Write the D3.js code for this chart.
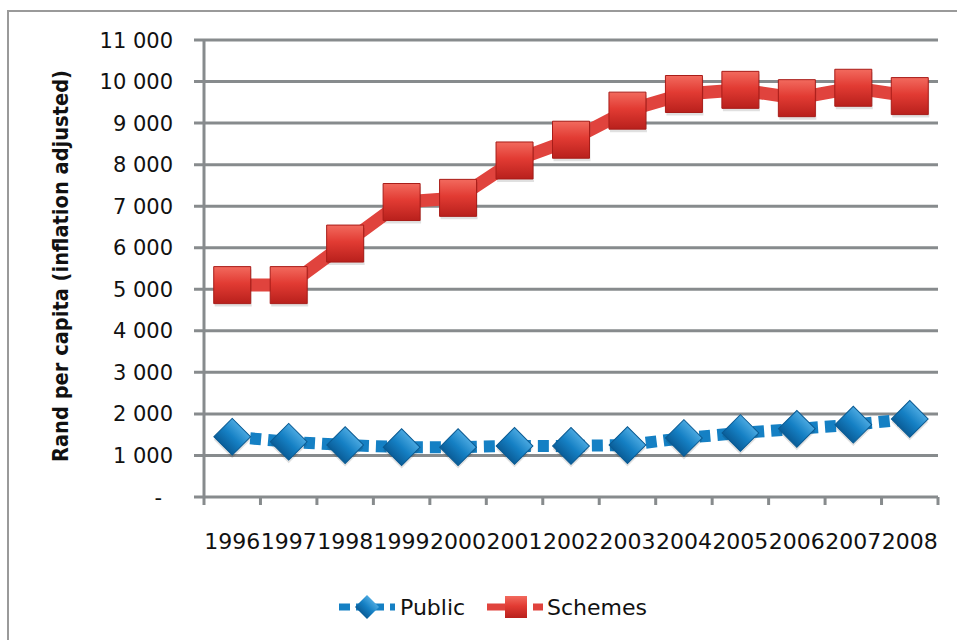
<!DOCTYPE html>
<html><head><meta charset="utf-8">
<script src="https://cdn.jsdelivr.net/npm/d3@7"></script>
<style>body{margin:0;background:#fff}svg{display:block}text{font-family:"DejaVu Sans",sans-serif}</style>
</head><body>
<script>
const years = ["1996","1997","1998","1999","2000","2001","2002","2003","2004","2005","2006","2007","2008"];
const publicValues = [1450,1330,1250,1200,1200,1230,1230,1250,1420,1540,1640,1740,1880];
const schemesValues = [5100,5100,6100,7100,7200,8100,8600,9300,9700,9800,9600,9850,9650];
const yTicks = [0,1000,2000,3000,4000,5000,6000,7000,8000,9000,10000,11000];
const yTickLabels = ["-","1 000","2 000","3 000","4 000","5 000","6 000","7 000","8 000","9 000","10 000","11 000"];
const seriesNames = ["Public","Schemes"];

const W=957,H=640;
const svg=d3.select("body").append("svg").attr("width",W).attr("height",H);
const defs=svg.append("defs");
const gR=defs.append("linearGradient").attr("id","gRed").attr("x1",0).attr("y1",0).attr("x2",0).attr("y2",1);
gR.append("stop").attr("offset","0%").attr("stop-color","#f26a5e");
gR.append("stop").attr("offset","45%").attr("stop-color","#e23b33");
gR.append("stop").attr("offset","100%").attr("stop-color","#b8201c");
const gB=defs.append("linearGradient").attr("id","gBlue").attr("x1",0).attr("y1",0).attr("x2",0).attr("y2",1);
gB.append("stop").attr("offset","0%").attr("stop-color","#4aa8e0");
gB.append("stop").attr("offset","50%").attr("stop-color","#1580c4");
gB.append("stop").attr("offset","100%").attr("stop-color","#0a5d98");

// frame
svg.append("rect").attr("x",8).attr("y",11).attr("width",1000).attr("height",700)
  .attr("fill","none").attr("stroke","#9a9a9a").attr("stroke-width",2);

const x=d3.scaleBand().domain(years).range([204,938]);
const y=d3.scaleLinear().domain([0,11000]).range([497,40]);
const grey="#878b8d";

svg.append("g").selectAll("line").data(yTicks).join("line")
  .attr("x1",194).attr("x2",938).attr("y1",d=>y(d)).attr("y2",d=>y(d))
  .attr("stroke",grey).attr("stroke-width",3);
svg.append("line").attr("x1",204).attr("x2",204).attr("y1",y(11000)).attr("y2",505)
  .attr("stroke",grey).attr("stroke-width",3);
const bounds=years.map(d=>x(d)).concat([x.range()[1]]);
svg.append("g").selectAll("line").data(bounds.slice(1)).join("line")
  .attr("x1",d=>d).attr("x2",d=>d).attr("y1",497).attr("y2",505)
  .attr("stroke",grey).attr("stroke-width",3);

svg.append("g").selectAll("text").data(yTicks).join("text")
  .attr("x",(d,i)=>i===0?162:173).attr("y",d=>y(d)+7.5).attr("text-anchor","end")
  .attr("font-size",21).attr("fill","#111").text((d,i)=>yTickLabels[i]);
svg.append("g").selectAll("text").data(years).join("text")
  .attr("x",d=>x(d)+x.bandwidth()/2).attr("y",549).attr("text-anchor","middle")
  .attr("font-size",22).attr("fill","#111").text(d=>d);
svg.append("text").attr("transform","translate(68,266) rotate(-90)").attr("text-anchor","middle")
  .attr("font-size",22).attr("font-weight","bold").attr("fill","#111")
  .attr("textLength",392).attr("lengthAdjust","spacingAndGlyphs")
  .text("Rand per capita (inflation adjusted)");

const cx=d=>x(d)+x.bandwidth()/2;
const line=d3.line().x(d=>cx(d[0])).y(d=>y(d[1]));
const pubData=years.map((d,i)=>[d,publicValues[i]]);
const schData=years.map((d,i)=>[d,schemesValues[i]]);

svg.append("path").attr("d",line(schData)).attr("fill","none").attr("stroke","#e0433d")
  .attr("stroke-width",13);
svg.append("path").attr("d",line(pubData)).attr("fill","none").attr("stroke","#1580c4")
  .attr("stroke-width",12).attr("stroke-dasharray","11,7");

const sq=d3.symbol().type(d3.symbolSquare).size(37*37);
const dq=d3.symbol().type(d3.symbolSquare).size(26*26);
function redMarker(g,px,py){
  g.append("path").attr("d",sq()).attr("transform",`translate(${px+1},${py+3})`).attr("fill","#000").attr("opacity",0.12);
  g.append("path").attr("d",sq()).attr("transform",`translate(${px},${py})`).attr("fill","url(#gRed)")
    .attr("stroke","#a81c18").attr("stroke-width",1);
}
function blueMarker(g,px,py){
  g.append("path").attr("d",dq()).attr("transform",`translate(${px},${py+3}) rotate(45)`).attr("fill","#000").attr("opacity",0.12);
  g.append("path").attr("d",dq()).attr("transform",`translate(${px},${py}) rotate(45)`)
    .attr("fill","url(#gBlue)").attr("stroke","#0a5a92").attr("stroke-width",1);
}
const mg=svg.append("g");
schData.forEach(d=>redMarker(mg,cx(d[0]),y(d[1])));
pubData.forEach(d=>blueMarker(mg,cx(d[0]),y(d[1])));

const lg=svg.append("g");
lg.append("line").attr("x1",339).attr("x2",395).attr("y1",607).attr("y2",607).attr("stroke","#1580c4").attr("stroke-width",7).attr("stroke-dasharray","11,6");
lg.append("path").attr("d",d3.symbol().type(d3.symbolSquare).size(17*17)()).attr("transform","translate(367,607) rotate(45)").attr("fill","url(#gBlue)");
lg.append("text").attr("x",400).attr("y",615).attr("font-size",22).attr("fill","#111").text(seriesNames[0]);
lg.append("line").attr("x1",487).attr("x2",543).attr("y1",607).attr("y2",607).attr("stroke","#e0433d").attr("stroke-width",7).attr("stroke-dasharray","18,28,10");
lg.append("path").attr("d",d3.symbol().type(d3.symbolSquare).size(22*22)()).attr("transform","translate(516,607)").attr("fill","url(#gRed)");
lg.append("text").attr("x",547).attr("y",615).attr("font-size",22).attr("fill","#111").text(seriesNames[1]);
</script>
</body></html>
